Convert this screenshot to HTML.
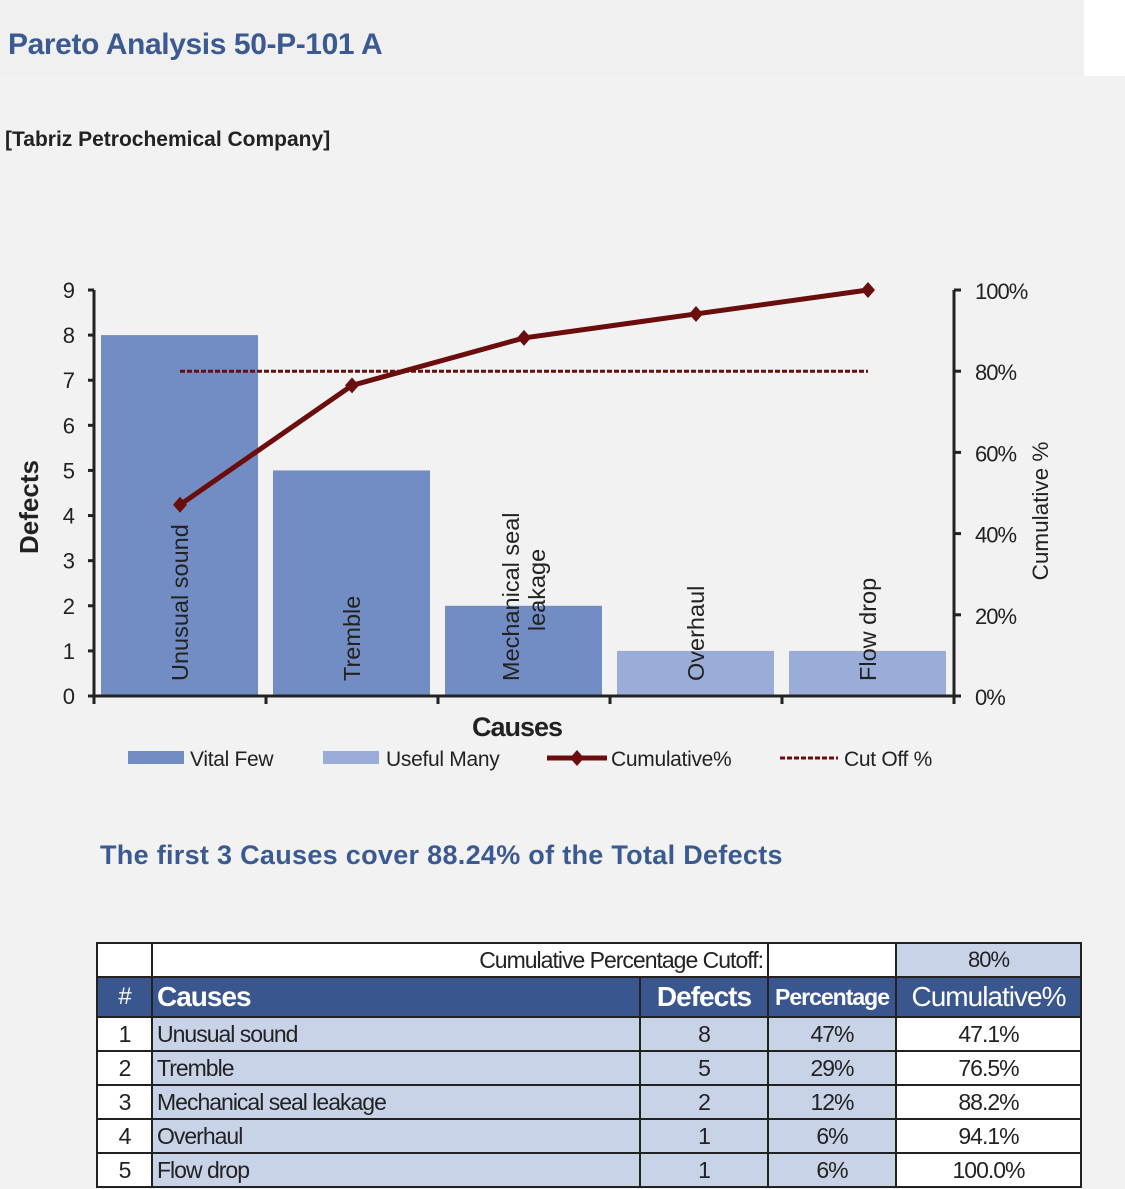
<!DOCTYPE html>
<html><head><meta charset="utf-8"><style>
body{margin:0;background:#f2f2f2;font-family:"Liberation Sans",sans-serif;}
#wrap{position:relative;width:1125px;height:1189px;overflow:hidden;background:#f2f2f2}
.abs{position:absolute}
.cell{position:absolute;box-sizing:border-box;display:flex;align-items:center;font-size:22px;color:#222;letter-spacing:-1px;overflow:hidden;white-space:nowrap}
</style></head><body>
<div id="wrap">
<div class="abs" style="left:0;top:0;width:1084px;height:76px;background:#f0f0f0"></div>
<div class="abs" style="left:1084px;top:0;width:41px;height:76px;background:#fff"></div>
<div class="abs" style="left:8px;top:28px;font-size:30px;font-weight:bold;color:#3b5a92;letter-spacing:-0.4px">Pareto Analysis 50-P-101 A</div>
<div class="abs" style="left:5px;top:128px;font-size:21px;font-weight:bold;color:#222;letter-spacing:0px">[Tabriz Petrochemical Company]</div>

<svg class="abs" style="left:0;top:0" width="1125" height="800" id="chart"></svg>

<div class="abs" style="left:100px;top:840px;font-size:27px;font-weight:bold;color:#3b5a92;letter-spacing:0.3px">The first 3 Causes cover 88.24% of the Total Defects</div>

<div id="table"></div>
</div>
<script>
const categories=["Unusual sound","Tremble","Mechanical seal leakage","Overhaul","Flow drop"];
const labelLines=[["Unusual  sound"],["Tremble"],["Mechanical seal","leakage"],["Overhaul"],["Flow drop"]];
const defects=[8,5,2,1,1];
const cumulative=[47.1,76.5,88.2,94.1,100.0];
const percentages=["47%","29%","12%","6%","6%"];
const cumLabels=["47.1%","76.5%","88.2%","94.1%","100.0%"];
const vital=[true,true,true,false,false];
const cutoff=80;
const leftTicks=[0,1,2,3,4,5,6,7,8,9];
const rightTicks=[0,20,40,60,80,100];

const NS="http://www.w3.org/2000/svg";
const svg=document.getElementById('chart');
const X0=94,X1=954,Y0=696,Y1=290;
const bw=(X1-X0)/categories.length;
const yL=v=>Y0-(v/9)*(Y0-Y1);
const yR=v=>Y0-(v/100)*(Y0-Y1);
const xc=i=>X0+bw*(i+0.5);
function mk(tag,attrs,txt){const e=document.createElementNS(NS,tag);for(const k in attrs)e.setAttribute(k,attrs[k]);if(txt!=null)e.textContent=txt;svg.appendChild(e);return e;}

defects.forEach((d,i)=>{
 const r=mk('rect',{x:X0+bw*i+7,y:yL(d),width:bw-15,height:Y0-yL(d),fill:vital[i]?'#728dc3':'#9aadd8'});
 
 
});
labelLines.forEach((ls,i)=>{
 ls.forEach((l,j)=>{
  const off=(j-(ls.length-1)/2)*26;
  const t=mk('text',{x:0,y:0,transform:`translate(${xc(i)+off+8},681) rotate(-90)`,'font-size':23.5,fill:'#222','text-anchor':ls.length>1&&j==1?'middle':'start'},l);
  if(ls.length>1&&j==1)t.setAttribute('transform',`translate(${xc(i)+off+8},${681-91}) rotate(-90)`);
  
  
 });
});
let a=mk('line',{x1:X0,y1:Y1,x2:X0,y2:Y0+2,stroke:'#222','stroke-width':3});

a=mk('line',{x1:X1,y1:Y1,x2:X1,y2:Y0+2,stroke:'#222','stroke-width':3});

a=mk('line',{x1:X0,y1:Y0,x2:X1,y2:Y0,stroke:'#222','stroke-width':3});

for(let i=0;i<=categories.length;i++){const t=mk('line',{x1:X0+bw*i,y1:Y0,x2:X0+bw*i,y2:Y0+8,stroke:'#222','stroke-width':3});
 }
leftTicks.forEach(v=>{
 let t=mk('line',{x1:X0-6,y1:yL(v),x2:X0,y2:yL(v),stroke:'#222','stroke-width':3});
 
 t=mk('text',{x:X0-19,y:yL(v)+8,'font-size':22,fill:'#222','text-anchor':'end'},v);
 
});
rightTicks.forEach(v=>{
 let t=mk('line',{x1:X1,y1:yR(v),x2:X1+7,y2:yR(v),stroke:'#222','stroke-width':3});
 
 t=mk('text',{x:975,y:yR(v)+9,'font-size':22,fill:'#222','letter-spacing':'-1'},v+'%');
 
});
let t=mk('text',{x:0,y:0,transform:'translate(38,507) rotate(-90)','font-size':26,'font-weight':'bold',fill:'#222','text-anchor':'middle'},'Defects');

t=mk('text',{x:0,y:0,transform:'translate(1048,511) rotate(-90)','font-size':22.5,fill:'#222','text-anchor':'middle'},'Cumulative  %');

t=mk('text',{x:517,y:736,'font-size':27,'font-weight':'bold',fill:'#222','text-anchor':'middle','letter-spacing':'-1'},'Causes');

t=mk('line',{x1:xc(0),y1:yR(cutoff),x2:xc(categories.length-1),y2:yR(cutoff),stroke:'#6b0d0d','stroke-width':3,'stroke-dasharray':'5,2'});

t=mk('polyline',{points:cumulative.map((v,i)=>xc(i)+','+yR(v)).join(' '),fill:'none',stroke:'#6b0d0d','stroke-width':5});

cumulative.forEach((v,i)=>{const x=xc(i),y=yR(v);
 const p=mk('polygon',{points:`${x},${y-8} ${x+7},${y} ${x},${y+8} ${x-7},${y}`,fill:'#6b0d0d'});
 });
t=mk('rect',{x:128,y:751,width:56,height:13,fill:'#728dc3'});
t=mk('text',{x:190,y:766,'font-size':21,fill:'#222','letter-spacing':'-0.3'},'Vital Few');
t=mk('rect',{x:323,y:751,width:56,height:13,fill:'#9aadd8'});
t=mk('text',{x:386,y:766,'font-size':21,fill:'#222','letter-spacing':'-0.3'},'Useful Many');
t=mk('line',{x1:547,y1:758,x2:607,y2:758,stroke:'#6b0d0d','stroke-width':5});
t=mk('polygon',{points:'577,750 584,758 577,766 570,758',fill:'#6b0d0d'});
t=mk('text',{x:611,y:766,'font-size':21,fill:'#222','letter-spacing':'-0.3'},'Cumulative%');
t=mk('line',{x1:780,y1:758,x2:838,y2:758,stroke:'#6b0d0d','stroke-width':3,'stroke-dasharray':'5,2'});
t=mk('text',{x:844,y:766,'font-size':21,fill:'#222','letter-spacing':'-0.3'},'Cut Off %');

const wrap=document.getElementById('wrap');
const cols=[96,151,639,767,895,1082];
function cell(x1,x2,y1,y2,txt,opt){const d=document.createElement('div');d.className='cell';
 d.style.left=x1+'px';d.style.top=y1+'px';d.style.width=(x2-x1)+'px';d.style.height=(y2-y1)+'px';
 d.style.background=opt.bg||'#fff';d.style.border='2.5px solid #222';
 d.style.justifyContent=opt.al||'center';if(opt.al=='flex-start')d.style.paddingLeft='4px';if(opt.al=='flex-end')d.style.paddingRight='4px';
 if(opt.color)d.style.color=opt.color;if(opt.fs)d.style.fontSize=opt.fs+'px';if(opt.bold)d.style.fontWeight='bold';
 d.textContent=txt;wrap.appendChild(d);return d;}
let c;
c=cell(cols[0],cols[1]+2,942,978,'',{});
c=cell(cols[1],cols[3]+2,942,978,'Cumulative Percentage Cutoff:',{al:'flex-end',fs:23});
c=cell(cols[3],cols[4]+2,942,978,'',{});
c=cell(cols[4],cols[5],942,978,'80%',{bg:'#c8d3e7'});
const hdr=['#','Causes','Defects','Percentage','Cumulative%'];
const hopt=[{fs:24},{fs:28,bold:true,al:'flex-start'},{fs:28,bold:true},{fs:23,bold:true},{fs:28}];
hdr.forEach((h,i)=>{c=cell(cols[i],cols[i+1]+(i<4?2:0),976,1018,h,Object.assign({bg:'#3a568e',color:'#fff'},hopt[i]));
 });
categories.forEach((cat,r)=>{const y1=1016+r*34,y2=y1+36;
 const vals=[String(r+1),cat,String(defects[r]),percentages[r],cumLabels[r]];
 const bgs=['#fff','#c8d3e7','#c8d3e7','#c8d3e7','#fff'];
 vals.forEach((v,i)=>{c=cell(cols[i],cols[i+1]+(i<4?2:0),y1,y2,v,{bg:bgs[i],al:i==1?'flex-start':'center',fs:23});
  });
});
</script>
</body></html>
